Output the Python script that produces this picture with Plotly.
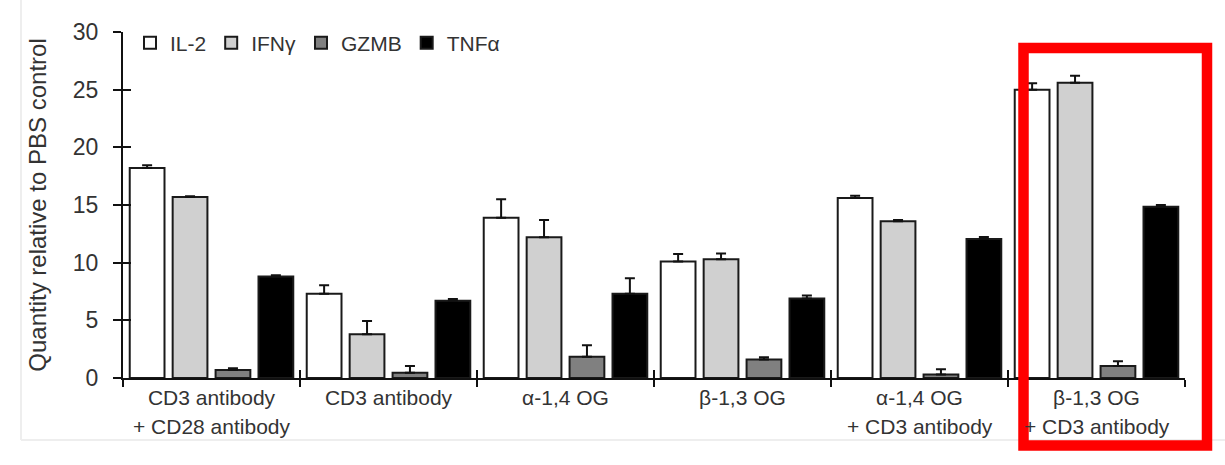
import plotly.graph_objects as go

categories = ["CD3 antibody<br>+ CD28 antibody", "CD3 antibody", "α-1,4 OG", "β-1,3 OG",
              "α-1,4 OG<br>+ CD3 antibody", "β-1,3 OG<br>+ CD3 antibody"]
series_names = ["IL-2", "IFNγ", "GZMB", "TNFα"]
il2 = [18.2, 7.3, 13.9, 10.1, 15.6, 25.0]
il2_err = [0.25, 0.75, 1.6, 0.65, 0.2, 0.55]
ifng = [15.7, 3.8, 12.2, 10.3, 13.6, 25.6]
ifng_err = [0.05, 1.15, 1.5, 0.5, 0.1, 0.6]
gzmb = [0.7, 0.45, 1.85, 1.6, 0.3, 1.05]
gzmb_err = [0.15, 0.6, 1.0, 0.2, 0.45, 0.4]
tnfa = [8.8, 6.7, 7.3, 6.9, 12.05, 14.85]
tnfa_err = [0.1, 0.15, 1.35, 0.25, 0.17, 0.15]
fills = ["#ffffff", "#d0d0d0", "#808080", "#000000"]
y_ticks = [0, 5, 10, 15, 20, 25, 30]

# split category labels: first line as tick text, second line as annotation
first_lines = [c.split("<br>")[0] for c in categories]
second_lines = [c.split("<br>")[1] if "<br>" in c else "" for c in categories]

W, H = 1225, 465
L, R, T, B = 123, 40, 32, 87
pw, ph = W - L - R, H - T - B

FONT = "Liberation Sans, Arial, sans-serif"
TXT = "#333333"
CATSIZE = 21

fig = go.Figure()
for name, vals, errs, col in zip(series_names, [il2, ifng, gzmb, tnfa],
                                 [il2_err, ifng_err, gzmb_err, tnfa_err], fills):
    fig.add_trace(go.Bar(
        name=name, x=categories, y=vals, marker=dict(color=col, line=dict(color="#1a1a1a", width=2)),
        error_y=dict(type="data", symmetric=False, array=errs, arrayminus=[0] * len(errs),
                     color="#111111", thickness=2, width=5),
    ))

# invisible trace for overlay axes (cross ticks)
fig.add_trace(go.Scatter(x=categories, y=[0] * len(categories), xaxis="x2", yaxis="y2",
                         mode="markers", marker=dict(opacity=0), showlegend=False, hoverinfo="skip"))


def px_x(x):
    return (x - L) / pw


def px_y(y):
    return (H - B - y) / ph


fig.update_layout(
    width=W, height=H,
    margin=dict(l=L, r=R, t=T, b=B, autoexpand=False),
    paper_bgcolor="white", plot_bgcolor="white",
    barmode="group", bargap=0.03, bargroupgap=0.19,
    font=dict(family=FONT, size=21, color=TXT),
    showlegend=True,
    legend=dict(orientation="h", x=px_x(130), y=px_y(43), xanchor="left", yanchor="middle",
                font=dict(size=21, color=TXT), itemwidth=30, tracegroupgap=0,
                bgcolor="rgba(0,0,0,0)"),
    xaxis=dict(type="category", range=[-0.5, 5.5], showline=True, linecolor="#111111", linewidth=2,
               tickmode="array", tickvals=categories, ticktext=first_lines,
               ticks="outside", ticklen=7, tickwidth=2, tickcolor="#111111", tickson="boundaries",
               ticklabelstandoff=0,
               showgrid=False, zeroline=False, tickfont=dict(size=CATSIZE, color=TXT), automargin=False),
    yaxis=dict(range=[0, 30], tickvals=y_ticks, showline=True, linecolor="#111111", linewidth=2,
               ticks="outside", ticklen=8, tickwidth=2, tickcolor="#111111", ticklabelstandoff=10,
               showgrid=False, zeroline=False, tickfont=dict(size=23, color=TXT), automargin=False,
               title=dict(text="Quantity relative to PBS control", font=dict(size=24, color=TXT), standoff=19)),
    xaxis2=dict(type="category", overlaying="x", range=[-0.5, 5.5], side="bottom", ticks="inside",
                ticklen=8, tickwidth=2, tickcolor="#111111", tickson="boundaries", showticklabels=False,
                showline=False, showgrid=False, zeroline=False),
    yaxis2=dict(overlaying="y", range=[0, 30], tickvals=y_ticks, ticks="inside", ticklen=8, tickwidth=2,
                tickcolor="#111111", showticklabels=False, showline=False, showgrid=False,
                zeroline=False, side="left"),
)

for cat, txt in zip(categories, second_lines):
    if txt:
        fig.add_annotation(x=cat, xref="x", y=px_y(426), yref="paper", text=txt, showarrow=False,
                           xanchor="center", yanchor="middle", font=dict(size=CATSIZE, color=TXT))

# faint panel border
fig.add_shape(type="line", xref="paper", yref="paper", x0=px_x(21), x1=px_x(21), y0=px_y(0), y1=px_y(440),
              line=dict(color="#eeeeee", width=2))
fig.add_shape(type="line", xref="paper", yref="paper", x0=px_x(21), x1=px_x(1225), y0=px_y(440), y1=px_y(440),
              line=dict(color="#eeeeee", width=2))
# red highlight box
fig.add_shape(type="rect", xref="paper", yref="paper", x0=px_x(1023.5), x1=px_x(1207),
              y0=px_y(445.5), y1=px_y(48), line=dict(color="#ff0000", width=10.5), fillcolor="rgba(0,0,0,0)")

fig.write_html("out.html", config={"displayModeBar": False},
               post_script="document.body.style.margin='0';")
